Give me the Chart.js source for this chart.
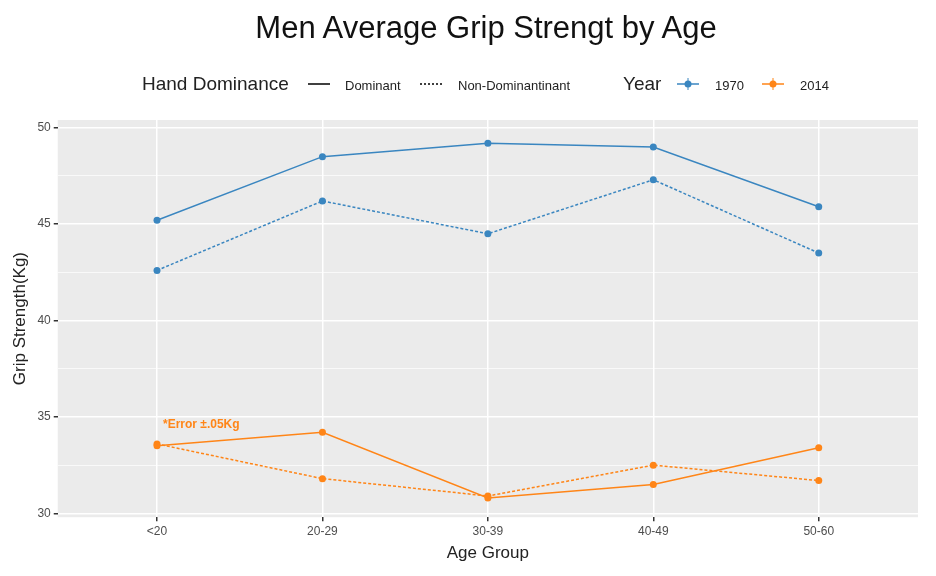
<!DOCTYPE html>
<html><head><meta charset="utf-8">
<script src="https://cdn.jsdelivr.net/npm/chart.js@4"></script>
<style>
body{margin:0;background:#fff;font-family:"Liberation Sans",Arial,sans-serif;}
#wrap{position:relative;width:936px;height:576px;}
#title{position:absolute;top:10px;left:0;width:972px;text-align:center;font-size:31px;color:#111;}
.l{position:absolute;top:73px;font-size:19px;color:#222;white-space:nowrap;line-height:22px}
.sm{font-size:13px;top:75px}
svg{position:absolute}
</style></head><body>
<div id="wrap">
<canvas id="c" width="936" height="576"></canvas>
<div id="title">Men Average Grip Strengt by Age</div>
<span class="l" style="left:142px">Hand Dominance</span>
<svg style="left:306px;top:79px" width="26" height="10"><line x1="2" y1="5" x2="24" y2="5" stroke="#000" stroke-width="1.5"/></svg><span class="l sm" style="left:345px">Dominant</span>
<svg style="left:418px;top:79px" width="26" height="10"><line x1="2" y1="5" x2="24" y2="5" stroke="#000" stroke-width="1.5" stroke-dasharray="2,2"/></svg><span class="l sm" style="left:458px">Non-Dominantinant</span>
<span class="l" style="left:623px">Year</span>
<svg style="left:675px;top:77px" width="26" height="14"><line x1="2" y1="7" x2="24" y2="7" stroke="#3a86c0" stroke-width="1.5"/><line x1="13" y1="1" x2="13" y2="13" stroke="#3a86c0"/><circle cx="13" cy="7" r="3.5" fill="#3a86c0"/></svg><span class="l sm" style="left:715px">1970</span>
<svg style="left:760px;top:77px" width="26" height="14"><line x1="2" y1="7" x2="24" y2="7" stroke="#ff8517" stroke-width="1.5"/><line x1="13" y1="1" x2="13" y2="13" stroke="#ff8517"/><circle cx="13" cy="7" r="3.5" fill="#ff8517"/></svg><span class="l sm" style="left:800px">2014</span>
</div>
<script>
const categories=["<20","20-29","30-39","40-49","50-60"];
const dom1970=[45.2,48.5,49.2,49.0,45.9];
const non1970=[42.6,46.2,44.5,47.3,43.5];
const dom2014=[33.5,34.2,30.8,31.5,33.4];
const non2014=[33.6,31.8,30.9,32.5,31.7];
const blue="#3a86c0", orange="#ff8517";
const pts=a=>a.map((v,i)=>({x:i,y:v}));
function ds(data,color,dash){return {data:pts(data),borderColor:color,backgroundColor:color,borderWidth:1.5,borderDash:dash,pointRadius:3.5,pointBorderWidth:0,tension:0};}
const bg={id:'bg',beforeDraw(c){const a=c.chartArea,x=c.ctx;x.save();x.fillStyle='#ebebeb';x.fillRect(a.left,a.top,a.right-a.left,a.bottom-a.top);x.restore();},
afterDatasetsDraw(c){const x=c.ctx;x.save();x.fillStyle=orange;x.font='bold 12px "Liberation Sans",Arial';x.fillText('*Error \u00b1.05Kg',c.scales.x.getPixelForValue(0)+6,c.scales.y.getPixelForValue(34.45));x.restore();}};
new Chart(document.getElementById('c'),{type:'line',
data:{datasets:[ds(dom1970,blue,[]),ds(non1970,blue,[3,2]),ds(dom2014,orange,[]),ds(non2014,orange,[3,2])]},
options:{responsive:false,animation:false,layout:{padding:{top:120,right:18,left:6,bottom:8}},
plugins:{legend:{display:false},tooltip:{enabled:false}},
scales:{
x:{type:'linear',min:-0.6,max:4.6,afterBuildTicks(s){s.ticks=categories.map((_,i)=>({value:i}));},
ticks:{callback:v=>categories[v],color:'#4d4d4d',font:{size:12}},grid:{color:'#fff',lineWidth:1.5,drawTicks:true,tickColor:'#333',tickLength:4},border:{display:false},
title:{display:true,text:'Age Group',font:{size:17},color:'#222',padding:{top:2}}},
y:{min:29.8,max:50.4,afterBuildTicks(s){const t=[];for(let v=30;v<=50;v+=2.5)t.push({value:v});s.ticks=t;},
ticks:{callback:v=>v%5===0?v:'',color:'#4d4d4d',font:{size:12}},
grid:{color:'#fff',lineWidth:c=>c.tick&&c.tick.value%5===0?1.5:0.7,tickLength:4,tickColor:c=>c.tick&&c.tick.value%5===0?'#333':'rgba(0,0,0,0)'},border:{display:false},
title:{display:true,text:'Grip Strength(Kg)',font:{size:17},color:'#222'}}}},
plugins:[bg]});
</script>
</body></html>
